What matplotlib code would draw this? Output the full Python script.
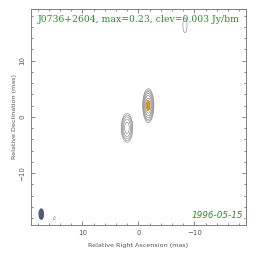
import numpy as np
import matplotlib
matplotlib.use("Agg")
import matplotlib.pyplot as plt
from matplotlib.patches import Ellipse

# Data
source = "J0736+2604"
peak = 0.23
clev = 0.003
date = "1996-05-15"
# components: x (mas), y (mas), flux (Jy/bm), sigma_x, sigma_y
comp_x = [-1.75, 2.05]
comp_y = [2.0, -1.95]
comp_flux = [0.23, 0.08]
comp_sx = [0.34, 0.40]
comp_sy = [1.02, 1.0]
# noise blobs
noise_x = [-8.3, -7.0, 15.0]
noise_y = [16.3, 19.6, -18.0]
noise_flux = [0.0042, 0.0036, -0.0036]
noise_sx = [0.45, 0.3, 0.3]
noise_sy = [1.6, 0.5, 0.45]
# beam (full widths, mas)
beam_x, beam_y, beam_w, beam_h = 17.35, -17.3, 0.75, 1.8
levels_pos = [clev * 2 ** k for k in range(0, 7)]

lim = 19.2
x = np.linspace(lim, -lim, 600)
y = np.linspace(-lim, lim, 600)
X, Y = np.meshgrid(x, y)
Z = np.zeros_like(X)
for cx, cy, f, sx, sy in zip(comp_x, comp_y, comp_flux, comp_sx, comp_sy):
    Z += f * np.exp(-((X - cx) ** 2 / (2 * sx ** 2) + (Y - cy) ** 2 / (2 * sy ** 2)))
for cx, cy, f, sx, sy in zip(noise_x, noise_y, noise_flux, noise_sx, noise_sy):
    Z += f * np.exp(-((X - cx) ** 2 / (2 * sx ** 2) + (Y - cy) ** 2 / (2 * sy ** 2)))

fig = plt.figure(figsize=(2.64, 2.62), dpi=100)
ax = fig.add_axes([0.117, 0.142, 0.815, 0.824])

ax.contourf(X, Y, Z, levels=[0.16, 1.0], colors=["#f0a000"])
ax.contour(X, Y, Z, levels=levels_pos, colors="#8a8a8a", linewidths=0.45)
ax.contour(X, Y, Z, levels=[-clev], colors="#8a8a8a", linewidths=0.45, linestyles="dashed")
ax.add_patch(Ellipse((beam_x, beam_y), beam_w, beam_h, facecolor="#4d5d73", edgecolor="#4d5d73"))

ax.set_xlim(lim, -lim)
ax.set_ylim(-lim, lim)
ax.set_xticks([10, 0, -10])
ax.set_yticks([10, 0, -10])
ax.set_xticks(np.arange(-18, 19, 2), minor=True)
ax.set_yticks(np.arange(-18, 19, 2), minor=True)
ax.set_xticklabels(["10", "0", "\u221210"])
ax.set_yticklabels(["10", "0", "\u221210"], rotation=90, va="center")
ax.tick_params(which="both", direction="in", top=True, right=True, colors="#707070",
               labelsize=5, labelcolor="#555555", width=0.6)
ax.tick_params(which="major", length=3, pad=4)
ax.tick_params(which="minor", length=1.5)
for s in ax.spines.values():
    s.set_color("#808080")
    s.set_linewidth(0.7)

ax.set_xlabel("Relative Right Ascension (mas)", fontsize=4.6, color="#555555", labelpad=5)
ax.set_ylabel("Relative Declination (mas)", fontsize=4.6, color="#555555", labelpad=2)

ax.text(0.5, 0.952, f"{source}, max={peak:.2f}, clev={clev:.3f} Jy/bm",
        transform=ax.transAxes, ha="center", va="center", fontsize=6.7,
        color="#2e8b2e", family="DejaVu Serif")
ax.text(0.986, 0.045, date, transform=ax.transAxes, ha="right", va="center",
        fontsize=6.4, color="#2e8b2e", style="italic", family="DejaVu Sans")

fig.savefig("out.png", dpi=100)
